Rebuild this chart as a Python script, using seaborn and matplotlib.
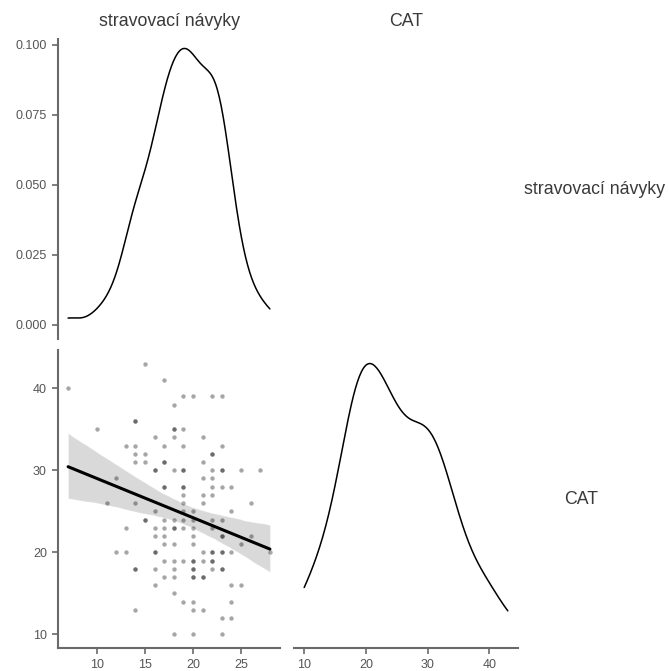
import numpy as np
import pandas as pd
import seaborn as sns
import matplotlib.pyplot as plt

# scatter points
# x = stravovací návyky, y = CAT (grouped by x value)
navyky = [
    7, 10, 11, 12, 12, 13, 13, 13,
    14, 14, 14, 14, 14, 14, 14, 14, 14,
    15, 15, 15, 15, 15,
    16, 16, 16, 16, 16, 16, 16, 16, 16, 16,
    17, 17, 17, 17, 17, 17, 17, 17, 17, 17, 17, 17,
    18, 18, 18, 18, 18, 18, 18, 18, 18, 18, 18, 18, 18, 18,
    19, 19, 19, 19, 19, 19, 19, 19, 19, 19, 19, 19, 19, 19,
    20, 20, 20, 20, 20, 20, 20, 20, 20, 20, 20, 20, 20, 20, 20,
    21, 21, 21, 21, 21, 21, 21, 21, 21, 21,
    22, 22, 22, 22, 22, 22, 22, 22, 22, 22, 22, 22, 22, 22,
    23, 23, 23, 23, 23, 23, 23, 23, 23, 23, 23, 23, 23, 23,
    24, 24, 24, 24, 24, 24,
    25, 25, 25, 26, 26, 27, 28,
]
cat = [
    40, 35, 26, 29, 20, 33, 23, 20,
    36, 36, 33, 32, 31, 26, 18, 18, 13,
    43, 32, 31, 24, 24,
    34, 30, 30, 25, 23, 22, 20, 20, 18, 16,
    41, 33, 31, 31, 28, 28, 24, 23, 22, 21, 19, 17,
    38, 35, 35, 34, 30, 24, 23, 23, 21, 19, 18, 17, 15, 10,
    39, 35, 33, 30, 30, 28, 28, 27, 26, 25, 24, 23, 19, 14,
    39, 25, 24, 23, 22, 21, 19, 19, 18, 18, 17, 17, 14, 13, 10,
    34, 31, 29, 27, 26, 20, 19, 17, 17, 13,
    39, 32, 32, 30, 29, 28, 27, 24, 23, 20, 20, 19, 19, 18,
    39, 33, 30, 30, 28, 24, 22, 22, 20, 20, 18, 18, 12, 10,
    28, 25, 20, 16, 14, 12,
    30, 21, 16, 26, 22, 30, 20,
]
var_names = ["stravovací návyky", "CAT"]
dens_ticks = [0.000, 0.025, 0.050, 0.075, 0.100]

df = pd.DataFrame({var_names[0]: navyky, var_names[1]: cat})

sns.set_style("ticks")
plt.rcParams["font.family"] = ["Liberation Sans", "DejaVu Sans"]

axis_col = "#6a6a6a"
text_col = "#3a3a3a"


def nrd0_adjust(v):
    # R's bw.nrd0 expressed relative to scipy's scott factor
    v = np.asarray(v, dtype=float)
    sd = v.std(ddof=1)
    iqr = np.subtract(*np.percentile(v, [75, 25]))
    return 0.9 * min(sd, iqr / 1.34) / sd


def expand(v):
    lo, hi = min(v), max(v)
    pad = 0.05 * (hi - lo)
    return lo - pad, hi + pad


def style(ax, show_x=True, show_y=True):
    sns.despine(ax=ax)
    for side in ["left", "bottom"]:
        ax.spines[side].set_color(axis_col)
        ax.spines[side].set_linewidth(1.5)
    ax.tick_params(colors=axis_col, labelcolor="#555555", labelsize=9,
                   length=4, width=1.2, pad=4)
    if not show_x:
        ax.spines["bottom"].set_visible(False)
        ax.tick_params(axis="x", bottom=False, labelbottom=False)
    if not show_y:
        ax.spines["left"].set_visible(False)
        ax.tick_params(axis="y", left=False, labelleft=False)
    ax.set_xlabel("")
    ax.set_ylabel("")


fig = plt.figure(figsize=(6.69, 6.71), dpi=100)
W, H = 669, 671


def add_ax(x0, y0, x1, y1):
    return fig.add_axes([x0 / W, 1 - y1 / H, (x1 - x0) / W, (y1 - y0) / H])


ax_tl = add_ax(58, 39.4, 280, 338.7)
ax_bl = add_ax(58, 350, 280, 648)
ax_br = add_ax(294, 350, 518, 648)

# top-left: density of stravovací návyky
sns.kdeplot(x=df[var_names[0]], ax=ax_tl, color="black", lw=1.1, cut=0,
            bw_adjust=nrd0_adjust(navyky))
ax_tl.set_xlim(*expand(navyky))
ax_tl.set_ylim(-0.0049, 0.102)
ax_tl.set_yticks(dens_ticks)
ax_tl.set_yticklabels([f"{t:.3f}" for t in dens_ticks])
style(ax_tl, show_x=False)

# bottom-left: scatter with linear fit
sns.regplot(data=df, x=var_names[0], y=var_names[1], ax=ax_bl, color="black",
            scatter_kws=dict(s=10, alpha=0.35, linewidths=0),
            line_kws=dict(lw=2.2), seed=3)
ax_bl.set_xlim(*expand(navyky))
ax_bl.set_ylim(*expand(cat))
ax_bl.set_xticks([10, 15, 20, 25])
ax_bl.set_yticks([10, 20, 30, 40])
style(ax_bl)

# bottom-right: density of CAT
sns.kdeplot(x=df[var_names[1]], ax=ax_br, color="black", lw=1.1, cut=0,
            bw_adjust=1.15 * nrd0_adjust(cat))
dmax = max(ax_br.lines[0].get_ydata())
ax_br.set_xlim(*expand(cat))
ax_br.set_ylim(-0.05 * dmax, 1.05 * dmax)
ax_br.set_xticks([10, 20, 30, 40])
style(ax_br, show_y=False)

# strip labels
fig.text(169 / W, 1 - 22 / H, var_names[0], ha="center", va="center",
         fontsize=12.8, color=text_col)
fig.text(406 / W, 1 - 22 / H, var_names[1], ha="center", va="center",
         fontsize=12.8, color=text_col)
fig.text(594 / W, 1 - 190 / H, var_names[0], ha="center", va="center",
         fontsize=12.8, color=text_col)
fig.text(581 / W, 1 - 499 / H, var_names[1], ha="center", va="center",
         fontsize=12.8, color=text_col)

fig.savefig("out.png", dpi=100)
